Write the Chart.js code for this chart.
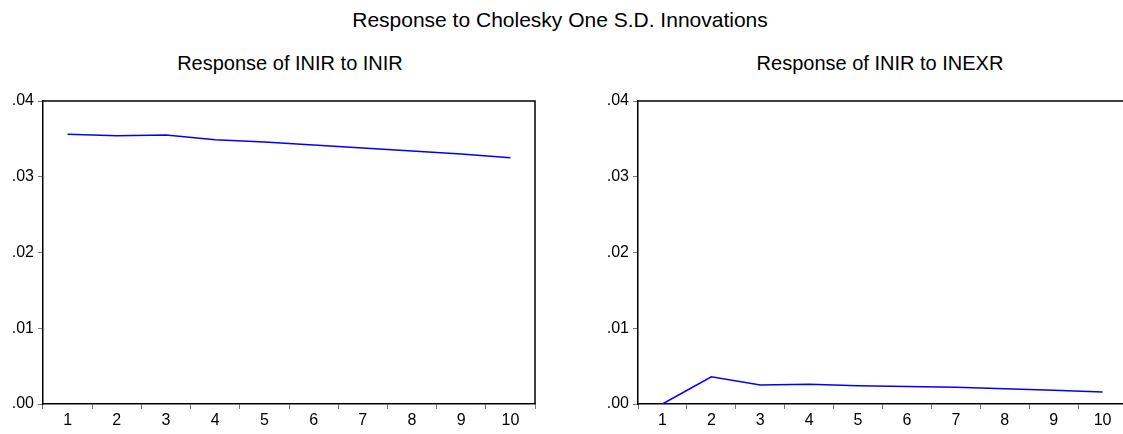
<!DOCTYPE html>
<html>
<head>
<meta charset="utf-8">
<script src="https://cdn.jsdelivr.net/npm/chart.js@4/dist/chart.umd.min.js"></script>
<style>
  body { margin: 0; width: 1123px; height: 434px; overflow: hidden; background: #fff; position: relative; font-family: "Liberation Sans", Arial, sans-serif; color: #000; }
  .title { position: absolute; white-space: nowrap; transform: translate(-50%, -50%); }
  #mainTitle { left: 560px; top: 20px; font-size: 21px; }
  #sub1 { left: 290px; top: 63px; font-size: 20px; }
  #sub2 { left: 880px; top: 63px; font-size: 20px; }
  canvas { position: absolute; top: 0; }
  #chartLeft { left: 0; }
  #chartRight { left: 561px; }
</style>
</head>
<body>
<div class="title" id="mainTitle">Response to Cholesky One S.D. Innovations</div>
<div class="title" id="sub1">Response of INIR to INIR</div>
<div class="title" id="sub2">Response of INIR to INEXR</div>
<canvas id="chartLeft" width="561" height="434"></canvas>
<canvas id="chartRight" width="570" height="434"></canvas>
<script>
// Periods after the shock
const periods = ["1", "2", "3", "4", "5", "6", "7", "8", "9", "10"];

// Response of INIR to INIR
const inirToInir = [0.0356, 0.0354, 0.0355, 0.0349, 0.0346, 0.0342, 0.0338, 0.0334, 0.0330, 0.0325];

// Response of INIR to INEXR
const inirToInexr = [0.0000, 0.0036, 0.0025, 0.0026, 0.0024, 0.0023, 0.0022, 0.0020, 0.0018, 0.0016];

// y axis range
const yMin = 0;
const yMax = 0.04;
const yStep = 0.01;

// Draws the top and right side of the plot frame
const framePlugin = {
    id: 'frame',
    afterDraw(chart) {
        const a = chart.chartArea;
        const ctx = chart.ctx;
        ctx.save();
        ctx.strokeStyle = '#000';
        ctx.lineWidth = 1.5;
        ctx.beginPath();
        ctx.moveTo(a.left, a.top);
        ctx.lineTo(a.right, a.top);
        ctx.lineTo(a.right, a.bottom);
        ctx.stroke();
        ctx.restore();
    }
};

function makeChart(id, values, padLeft, padRight) {
    const ctx = document.getElementById(id).getContext('2d');
    return new Chart(ctx, {
        type: 'line',
        data: {
            labels: periods,
            datasets: [{
                data: values,
                borderColor: '#0000FF',
                borderWidth: 1.5,
                pointRadius: 0,
                tension: 0,
                fill: false
            }]
        },
        options: {
            responsive: false,
            animation: false,
            devicePixelRatio: 1,
            layout: { padding: { top: 101, left: padLeft, right: padRight, bottom: 0 } },
            plugins: { legend: { display: false }, tooltip: { enabled: false } },
            scales: {
                x: {
                    offset: true,
                    grid: { offset: true, drawOnChartArea: false, drawTicks: true, tickLength: 5, color: '#777' },
                    border: { display: true, color: '#000', width: 1.5 },
                    ticks: { color: '#000', font: { family: 'Liberation Sans', size: 16 }, padding: 2, maxRotation: 0, autoSkip: false },
                    afterFit: scale => { scale.height = 30; }
                },
                y: {
                    min: yMin,
                    max: yMax,
                    grid: { drawOnChartArea: false, drawTicks: true, tickLength: 5, color: '#777' },
                    border: { display: true, color: '#000', width: 1.5 },
                    ticks: {
                        stepSize: yStep,
                        color: '#000',
                        font: { family: 'Liberation Sans', size: 16 },
                        padding: 4,
                        callback: v => v.toFixed(2).replace(/^0/, '')
                    },
                    afterFit: scale => { scale.width = 43; }
                }
            }
        },
        plugins: [framePlugin]
    });
}

window.onload = function() {
    makeChart('chartLeft', inirToInir, 0, 26);
    makeChart('chartRight', inirToInexr, 34, 4);
};
</script>
</body>
</html>
